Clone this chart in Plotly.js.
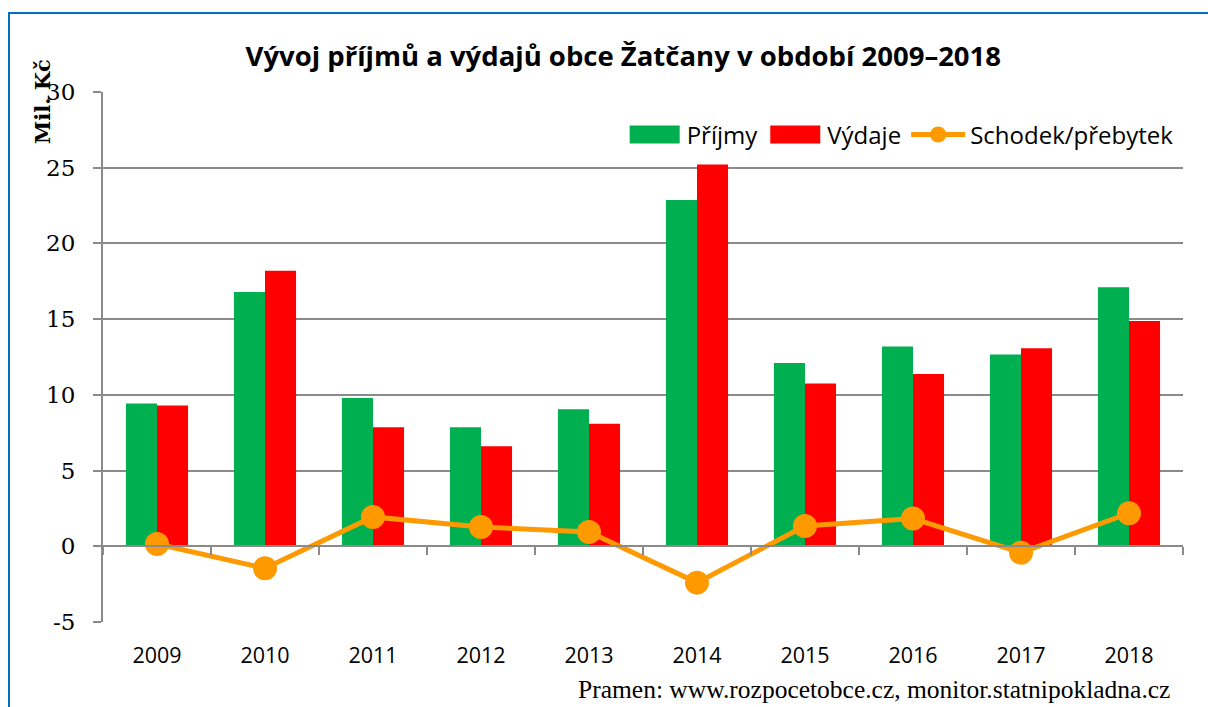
<!DOCTYPE html>
<html>
<head>
<meta charset="utf-8">
<script src="https://cdn.plot.ly/plotly-3.0.1.min.js"></script>
<style>
html,body{margin:0;padding:0;background:#fff;}
#wrap{position:relative;width:1208px;height:707px;overflow:hidden;}
#chart{width:1208px;height:707px;}
#frame{position:absolute;left:8px;top:12px;width:1400px;height:900px;border:2px solid #0070C0;pointer-events:none;}
</style>
</head>
<body>
<div id="wrap"><div id="chart"></div><div id="frame"></div></div>
<script>
const years = ['2009','2010','2011','2012','2013','2014','2015','2016','2017','2018'];
const prijmy = [9.43, 16.8, 9.8, 7.86, 9.05, 22.87, 12.11, 13.2, 12.67, 17.1];
const vydaje = [9.3, 18.2, 7.86, 6.6, 8.1, 25.22, 10.75, 11.37, 13.07, 14.87];
const saldo = [0.15, -1.45, 1.94, 1.28, 0.95, -2.4, 1.34, 1.83, -0.42, 2.18];
const yTickVals = [-5, 0, 5, 10, 15, 20, 25, 30];
const yTickLabels = ['-5', '0', '5', '10', '15', '20', '25', '30'];

const gridColor = '#8a8a8a';
const sans = 'Open Sans, DejaVu Sans, sans-serif';
const serif = 'DejaVu Serif, Liberation Serif, serif';

const traces = [
  {type:'bar', name:'Příjmy', x:years, y:prijmy, marker:{color:'#00B050'}, hoverinfo:'skip'},
  {type:'bar', name:'Výdaje', x:years, y:vydaje, marker:{color:'#FF0000'}, hoverinfo:'skip'},
  {type:'scatter', mode:'lines+markers', name:'Schodek/přebytek', x:years, y:saldo, xaxis:'x2',
   line:{color:'#FF9900', width:5}, marker:{color:'#FF9900', size:24}, hoverinfo:'skip'}
];

const layout = {
  width:1208, height:707,
  margin:{l:103, r:25, t:92, b:85},
  paper_bgcolor:'#fff', plot_bgcolor:'#fff',
  barmode:'group', bargap:0.425, bargroupgap:0,
  showlegend:true,
  title:{text:'<b>Vývoj příjmů a výdajů obce Žatčany v období 2009–2018</b>', font:{family:sans, size:27.5, color:'#000'}, x:0.516, xanchor:'center', y:0.92, yanchor:'middle'},
  xaxis:{type:'category', categoryorder:'array', categoryarray:years, range:[-0.5, 9.5],
    showgrid:false, zeroline:false, showline:false, ticks:'',
    tickfont:{family:sans, size:21.5, color:'#000'}, ticklabelstandoff:18},
  xaxis2:{type:'category', categoryorder:'array', categoryarray:years, range:[-0.5, 9.5],
    overlaying:'x', anchor:'free', position:0.1434, side:'bottom',
    showgrid:false, zeroline:false, showline:true, linecolor:gridColor, linewidth:2,
    ticks:'outside', tickson:'boundaries', ticklen:8, tickcolor:gridColor, tickwidth:2,
    showticklabels:false},
  yaxis:{range:[-5, 30], tickvals:yTickVals, ticktext:yTickLabels,
    showgrid:true, gridcolor:gridColor, gridwidth:2, zeroline:false,
    showline:true, linecolor:gridColor, linewidth:2,
    ticks:'outside', ticklen:8, tickcolor:gridColor, tickwidth:2,
    tickfont:{family:serif, size:23, color:'#000'}, ticklabelstandoff:13},
  legend:{orientation:'h', x:0.996, xanchor:'right', y:0.919, yanchor:'middle',
    bgcolor:'rgba(0,0,0,0)', font:{family:sans, size:24, color:'#000'},
    traceorder:'normal', itemwidth:54},
  annotations:[
    {text:'<b>Mil. Kč</b>', textangle:-90, xref:'paper', yref:'paper', x:0, xshift:-61, y:0.981,
     xanchor:'center', yanchor:'middle', showarrow:false, font:{family:serif, size:21, color:'#000'}},
    {text:'Pramen: www.rozpocetobce.cz, monitor.statnipokladna.cz', xref:'paper', yref:'paper',
     x:0.99, xanchor:'right', y:-0.128, yanchor:'middle', showarrow:false,
     font:{family:'Liberation Serif, DejaVu Serif, serif', size:25.5, color:'#000'}}
  ]
};

function fixLegend() {
  const items = document.querySelectorAll('#chart .legend .traces');
  items.forEach(function (g, i) {
    if (i < 2) {
      g.querySelectorAll('.legendpoints path').forEach(function (p) {
        p.setAttribute('d', 'M25,9H-25V-9H25Z');
      });
    }
  });
}

Plotly.newPlot('chart', traces, layout, {displayModeBar:false, staticPlot:true}).then(fixLegend);
</script>
</body>
</html>
